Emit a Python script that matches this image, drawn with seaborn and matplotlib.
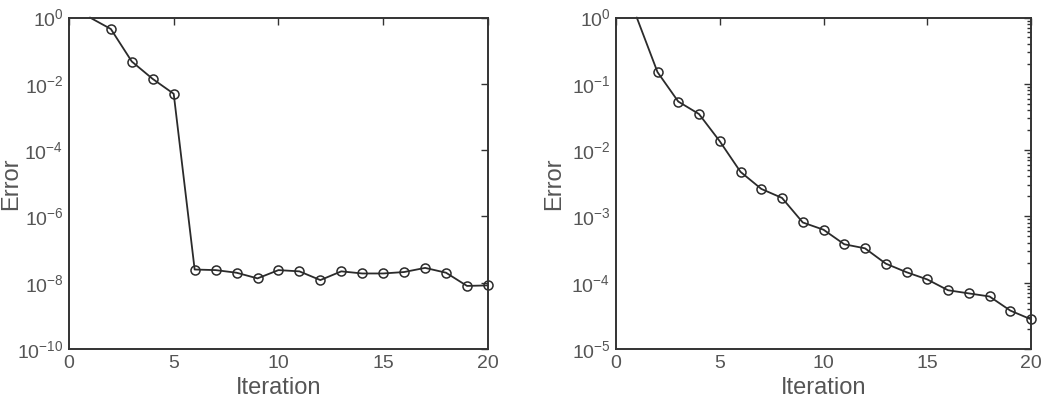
import matplotlib
matplotlib.use("Agg")
import matplotlib.pyplot as plt
import matplotlib.ticker as mticker
import pandas as pd
import seaborn as sns

iterations = list(range(1, 21))
error_left = [1.0, 0.45, 0.047, 0.014, 0.005, 2.5e-8, 2.4e-8, 2.0e-8, 1.35e-8, 2.4e-8,
              2.2e-8, 1.2e-8, 2.2e-8, 1.9e-8, 1.9e-8, 2.1e-8, 2.8e-8, 2.0e-8, 8.0e-9, 8.3e-9]
error_right = [1.0, 0.15, 0.054, 0.035, 0.0136, 0.0047, 0.0026, 0.0019, 8.1e-4, 6.3e-4,
               3.8e-4, 3.3e-4, 1.94e-4, 1.44e-4, 1.12e-4, 7.7e-5, 6.9e-5, 6.2e-5, 3.8e-5, 2.8e-5]
xticks = [0, 5, 10, 15, 20]

sns.set_style("white")
plt.rcParams["font.family"] = ["Liberation Sans", "DejaVu Sans"]
text_color = "#555555"
edge_color = "#333333"

fig = plt.figure(figsize=(10.48, 3.99), dpi=100)
ax_left = fig.add_axes([0.0658, 0.1253, 0.3998, 0.8308])
ax_right = fig.add_axes([0.5878, 0.1253, 0.3960, 0.8308])

panels = [
    (ax_left, error_left, (1e-10, 1), [10.0 ** k for k in range(-10, 1, 2)], False, -0.112),
    (ax_right, error_right, (1e-5, 1), [10.0 ** k for k in range(-5, 1)], True, -0.123),
]

for ax, errors, ylim, yticks, minor, label_x in panels:
    df = pd.DataFrame({"Iteration": iterations, "Error": errors})
    sns.lineplot(data=df, x="Iteration", y="Error", ax=ax, color="#2b2b2b",
                 linewidth=1.3, marker="o", markersize=6.5, markerfacecolor="none",
                 markeredgecolor="#2b2b2b", markeredgewidth=1.1,
                 markevery=list(range(1, len(errors))))
    for line in ax.lines:
        line.set_clip_on(False)
    ax.set_yscale("log")
    ax.set_xlim(0, 20)
    ax.set_ylim(*ylim)
    ax.set_xticks(xticks)
    ax.set_yticks(yticks)
    ax.yaxis.set_major_formatter(mticker.LogFormatterSciNotation())
    if minor:
        ax.yaxis.set_minor_locator(mticker.LogLocator(base=10, subs=range(2, 10), numticks=20))
    else:
        ax.yaxis.set_minor_locator(mticker.NullLocator())
    ax.tick_params(which="both", direction="in", top=True, right=True,
                   colors=edge_color, labelcolor=text_color, labelsize=14, width=1)
    ax.tick_params(which="major", length=5)
    ax.tick_params(which="minor", length=3)
    ax.tick_params(axis="x", pad=4)
    ax.tick_params(axis="y", pad=4)
    for spine in ax.spines.values():
        spine.set_visible(True)
        spine.set_color(edge_color)
        spine.set_linewidth(1.4)
    ax.set_xlabel("Iteration", fontsize=17, color=text_color, labelpad=4)
    ax.set_ylabel("Error", fontsize=17, color=text_color)
    ax.yaxis.set_label_coords(label_x, 0.5)
    ax.grid(False)

fig.savefig("out.png", dpi=100)
